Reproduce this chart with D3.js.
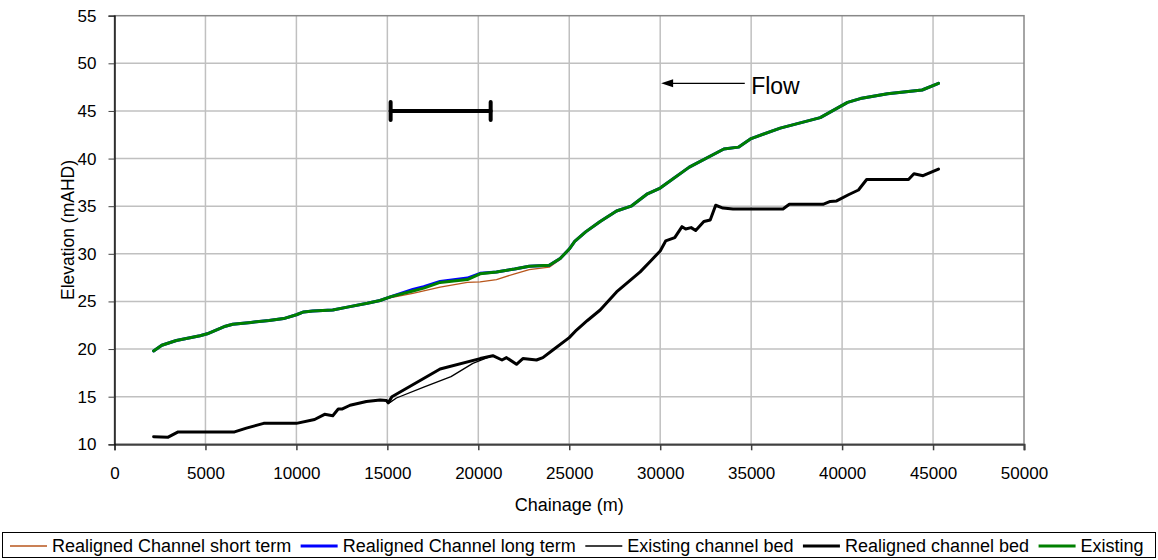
<!DOCTYPE html>
<html>
<head>
<meta charset="utf-8">
<script src="https://cdn.jsdelivr.net/npm/d3@7"></script>
<style>
    body { margin: 0; background: #fff; }
    svg text { font-family: "Liberation Sans", Arial, sans-serif; fill: #000; }
</style>
</head>
<body>
<svg id="chart" width="1158" height="560"></svg>
<script>
// long section data (chainage in m, level in mAHD)
const xTicks = [0, 5000, 10000, 15000, 20000, 25000, 30000, 35000, 40000, 45000, 50000];
const yTicks = [10, 15, 20, 25, 30, 35, 40, 45, 50, 55];

const surfaceChainage = [2150, 2600, 3400, 4700, 5100, 6100, 6500, 7500, 8500, 9300, 10000, 10400, 10900, 12000, 12800, 13900, 14600, 15200, 16400, 17000, 17900, 19400, 20100, 21000, 22000, 22800, 23900, 24500, 25000, 25300, 25900, 26700, 27600, 28400, 29300, 30000, 31600, 33500, 34300, 35000, 36600, 38800, 40300, 41000, 42500, 44400, 45300];
const existingLevel = [19.8, 20.4, 20.9, 21.4, 21.6, 22.4, 22.6, 22.8, 23.0, 23.2, 23.6, 23.9, 24.0, 24.1, 24.4, 24.8, 25.1, 25.5, 26.1, 26.4, 27.0, 27.3, 27.9, 28.1, 28.4, 28.7, 28.8, 29.5, 30.5, 31.3, 32.3, 33.4, 34.5, 35.0, 36.3, 36.9, 39.1, 41.0, 41.2, 42.1, 43.2, 44.3, 45.9, 46.3, 46.8, 47.2, 47.9];
const longTermLevel = [19.8, 20.4, 20.9, 21.4, 21.6, 22.4, 22.6, 22.8, 23.0, 23.2, 23.6, 23.9, 24.0, 24.1, 24.4, 24.8, 25.1, 25.5, 26.25, 26.55, 27.1, 27.45, 27.95, 28.1, 28.4, 28.7, 28.8, 29.5, 30.5, 31.3, 32.3, 33.4, 34.5, 35.0, 36.3, 36.9, 39.1, 41.0, 41.2, 42.1, 43.2, 44.3, 45.9, 46.3, 46.8, 47.2, 47.9];
const shortTermLevel = [19.8, 20.4, 20.9, 21.4, 21.6, 22.4, 22.6, 22.8, 23.0, 23.2, 23.6, 23.9, 24.0, 24.1, 24.4, 24.8, 25.1, 25.4, 25.85, 26.1, 26.5, 27.0, 27.05, 27.3, 27.9, 28.35, 28.6, 29.4, 30.5, 31.3, 32.3, 33.4, 34.5, 35.0, 36.3, 36.9, 39.1, 41.0, 41.2, 42.1, 43.2, 44.3, 45.9, 46.3, 46.8, 47.2, 47.9];

const realignedBedChainage = [2150, 2950, 3500, 6600, 7250, 8200, 10000, 11000, 11550, 12000, 12300, 12500, 12950, 13850, 14600, 14950, 15050, 15250, 17900, 20100, 20800, 21300, 21550, 22100, 22450, 23200, 23550, 24100, 25000, 25400, 26000, 26700, 27600, 28900, 29450, 30000, 30300, 30800, 31200, 31400, 31700, 31950, 32400, 32750, 33050, 33450, 34000, 36750, 37100, 38950, 39350, 39700, 40350, 40900, 41350, 43650, 43950, 44450, 45300];
const realignedBedLevel = [10.8, 10.75, 11.3, 11.3, 11.7, 12.2, 12.2, 12.6, 13.15, 13.0, 13.7, 13.7, 14.1, 14.5, 14.65, 14.6, 14.35, 15.0, 17.9, 19.0, 19.3, 18.85, 19.1, 18.4, 19.0, 18.85, 19.1, 19.9, 21.2, 22.0, 23.0, 24.1, 26.0, 28.1, 29.2, 30.3, 31.35, 31.7, 32.85, 32.6, 32.75, 32.45, 33.4, 33.55, 35.1, 34.8, 34.7, 34.7, 35.2, 35.2, 35.5, 35.55, 36.2, 36.7, 37.8, 37.8, 38.4, 38.2, 38.9];

// existing bed only differs from the realigned one between ~15 and ~21 km
const existingBedChainage = [2150, 2950, 3500, 6600, 7250, 8200, 10000, 11000, 11550, 12000, 12300, 12500, 12950, 13850, 14600, 14950, 15050, 15150, 15500, 17000, 18500, 19700, 20500, 20800, 21300, 21550, 22100, 22450, 23200, 23550, 24100, 25000];
const existingBedLevel = [10.8, 10.75, 11.3, 11.3, 11.7, 12.2, 12.2, 12.6, 13.15, 13.0, 13.7, 13.7, 14.1, 14.5, 14.65, 14.6, 14.35, 14.4, 14.86, 16.0, 17.1, 18.5, 19.1, 19.3, 18.85, 19.1, 18.4, 19.0, 18.85, 19.1, 19.9, 21.2];

const seriesNames = ["Realigned Channel short term", "Realigned Channel long term", "Existing channel bed", "Realigned channel bed", "Existing"];

const settings = {
    left: 114.5, right: 1024, top: 15.7, bottom: 444.3,
    font: 17,
    gridColor: "#c0c0c0"
};

const zip = (xs, ys) => xs.map((v, i) => [v, ys[i]]);

// drawing order: green last so it sits on top, like the original
const series = [
    { name: seriesNames[0], pts: zip(surfaceChainage, shortTermLevel), color: "#b8561c", width: 1.3 },
    { name: seriesNames[1], pts: zip(surfaceChainage, longTermLevel), color: "#0000ff", width: 3 },
    { name: seriesNames[2], pts: zip(existingBedChainage, existingBedLevel), color: "#000000", width: 1.3 },
    { name: seriesNames[3], pts: zip(realignedBedChainage, realignedBedLevel), color: "#000000", width: 3 },
    { name: seriesNames[4], pts: zip(surfaceChainage, existingLevel), color: "#008000", width: 3 }
];

const svg = d3.select("#chart");
const x = d3.scaleLinear().domain([0, 50000]).range([settings.left, settings.right]);
const y = d3.scaleLinear().domain([10, 55]).range([settings.bottom, settings.top]);

// grid
const grid = svg.append("g").attr("class", "grid");
grid.selectAll("line.v").data(xTicks.slice(1, -1)).join("line")
    .attr("class", "v")
    .attr("x1", d => x(d)).attr("x2", d => x(d))
    .attr("y1", settings.top).attr("y2", settings.bottom);
grid.selectAll("line.h").data(yTicks.slice(1, -1)).join("line")
    .attr("class", "h")
    .attr("x1", settings.left).attr("x2", settings.right)
    .attr("y1", d => y(d)).attr("y2", d => y(d));
grid.selectAll("line").style("stroke", settings.gridColor).style("stroke-width", 1.5);

svg.append("rect")
    .attr("x", settings.left).attr("y", settings.top)
    .attr("width", settings.right - settings.left)
    .attr("height", settings.bottom - settings.top)
    .style("fill", "none").style("stroke", "#888").style("stroke-width", 1.5);

// axes
const xAxis = svg.append("g")
    .attr("transform", `translate(0,${settings.bottom})`)
    .call(d3.axisBottom(x).tickValues(xTicks).tickSize(6).tickPadding(17).tickFormat(d3.format("d")));
xAxis.select(".domain").style("stroke", "#404040").style("stroke-width", 2);
xAxis.selectAll(".tick line").style("stroke", "#404040").style("stroke-width", 1.5);

const yAxis = svg.append("g")
    .attr("transform", `translate(${settings.left},0)`)
    .call(d3.axisLeft(y).tickValues(yTicks).tickSize(6).tickPadding(12));
yAxis.select(".domain").style("stroke", "#000").style("stroke-width", 1.3);
yAxis.selectAll(".tick line").style("stroke", "#404040");

svg.selectAll(".tick text")
    .style("font-size", settings.font + "px")
    .style("font-family", '"Liberation Sans", Arial, sans-serif');

svg.append("text")
    .attr("x", (settings.left + settings.right) / 2).attr("y", 511)
    .attr("text-anchor", "middle")
    .style("font-size", "18px")
    .text("Chainage (m)");
svg.append("text")
    .attr("transform", `translate(74,${(settings.top + settings.bottom) / 2}) rotate(-90)`)
    .attr("text-anchor", "middle")
    .style("font-size", "17.5px")
    .text("Elevation (mAHD)");

// profiles
const line = d3.line().x(d => x(d[0])).y(d => y(d[1]));
svg.append("g").attr("class", "lines")
    .selectAll("path").data(series).join("path")
    .attr("d", d => line(d.pts))
    .style("fill", "none")
    .style("stroke", d => d.color)
    .style("stroke-width", d => d.width)
    .style("stroke-linejoin", "round")
    .style("stroke-linecap", "round");

// scale bar annotation
const barFrom = 15180, barTo = 20680, barLevel = 45;
const bar = svg.append("g").style("stroke", "#000").style("stroke-width", 4).style("stroke-linecap", "round");
bar.append("line")
    .attr("x1", x(barFrom)).attr("x2", x(barTo))
    .attr("y1", y(barLevel)).attr("y2", y(barLevel));
[barFrom, barTo].forEach(c => {
    bar.append("line")
        .attr("x1", x(c)).attr("x2", x(c))
        .attr("y1", y(barLevel) - 9).attr("y2", y(barLevel) + 9);
});

// flow arrow (points upstream -> downstream, i.e. to the left)
const arrowTip = x(30050), arrowTail = x(34650), arrowY = y(47.9);
svg.append("line")
    .attr("x1", arrowTail).attr("x2", arrowTip + 8)
    .attr("y1", arrowY).attr("y2", arrowY)
    .style("stroke", "#000").style("stroke-width", 1.3);
svg.append("path")
    .attr("d", `M${arrowTip},${arrowY} L${arrowTip + 12},${arrowY - 4} L${arrowTip + 12},${arrowY + 4} Z`)
    .style("fill", "#000");
svg.append("text")
    .attr("x", x(35000)).attr("y", y(46.75))
    .style("font-size", "23px")
    .text("Flow");

// legend along the bottom
const legend = svg.append("g").attr("class", "legend");
legend.append("rect")
    .attr("x", 2.5).attr("y", 532.5).attr("width", 1153).attr("height", 25)
    .style("fill", "#fff").style("stroke", "#000");
let lx = 10;
series.forEach(s => {
    const g = legend.append("g");
    g.append("line")
        .attr("x1", lx).attr("x2", lx + 37)
        .attr("y1", 546).attr("y2", 546)
        .style("stroke", s.color).style("stroke-width", s.width);
    const t = g.append("text")
        .attr("x", lx + 42).attr("y", 552)
        .style("font-size", "18px")
        .text(s.name);
    lx += 42 + t.node().getComputedTextLength() + 9.5;
});
</script>
</body>
</html>
